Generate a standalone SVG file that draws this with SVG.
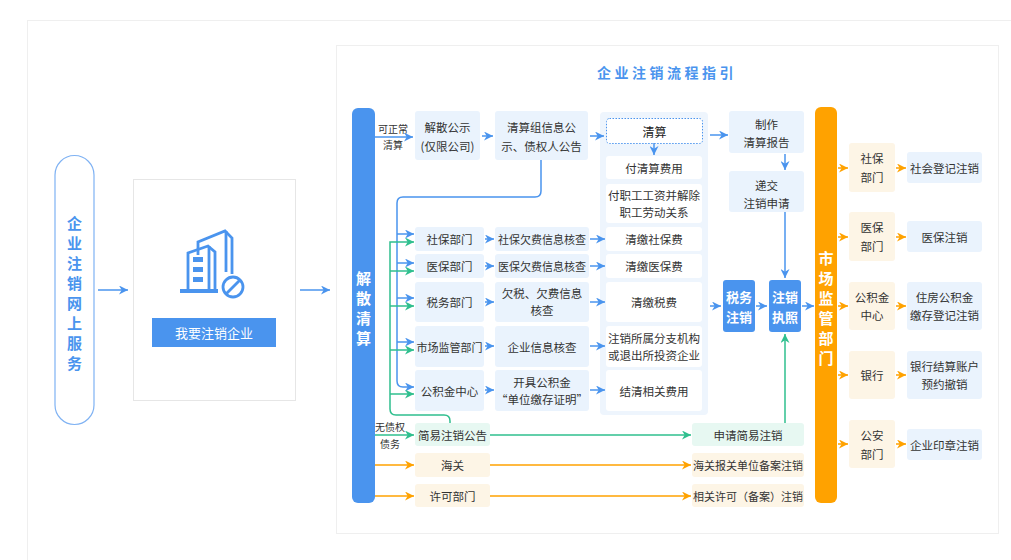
<svg xmlns="http://www.w3.org/2000/svg" width="1011" height="560" viewBox="0 0 1011 560">
<defs>
<style>
.t{font-family:"Noto Sans CJK SC","Noto Sans",sans-serif;font-size:11.5px;fill:#333;text-anchor:middle;dominant-baseline:central}
.s{font-size:10px}
.w{fill:#fff;font-weight:bold;font-size:13px}
.bar{fill:#fff;font-weight:bold;font-size:15px}
.pl{font-size:15px;font-weight:bold;fill:#4a94ee}
.lb{fill:#eaf3fd}
.mn{fill:#e7f8f2}
.cr{fill:#fdf5e6}
.wb{fill:#fff}
.cb{stroke:#4a94ee;stroke-width:1.5;fill:none}
.cg{stroke:#2fbf8e;stroke-width:1.5;fill:none}
.co{stroke:#ffa200;stroke-width:1.5;fill:none}
.ab{marker-end:url(#mb)}
.ag{marker-end:url(#mg)}
.ao{marker-end:url(#mo)}
</style>
<marker id="mb" viewBox="0 0 10 10" refX="10" refY="5" markerWidth="9" markerHeight="9" markerUnits="userSpaceOnUse" orient="auto"><path d="M0,0 L10,5 L0,10 L3,5z" fill="#4a94ee"/></marker>
<marker id="mg" viewBox="0 0 10 10" refX="10" refY="5" markerWidth="9" markerHeight="9" markerUnits="userSpaceOnUse" orient="auto"><path d="M0,0 L10,5 L0,10 L3,5z" fill="#2fbf8e"/></marker>
<marker id="mo" viewBox="0 0 10 10" refX="10" refY="5" markerWidth="9" markerHeight="9" markerUnits="userSpaceOnUse" orient="auto"><path d="M0,0 L10,5 L0,10 L3,5z" fill="#ffa200"/></marker>
</defs>
<rect x="0" y="0" width="1011" height="560" fill="#fff"/>
<rect x="27.5" y="20.5" width="995" height="550" fill="#fff" stroke="#efefef"/>
<rect x="336.5" y="45.5" width="662" height="488" fill="#fff" stroke="#efefef"/>
<text x="667" y="72" class="t" style="font-size:14px;font-weight:bold;fill:#4a94ee;letter-spacing:3.5px">企业注销流程指引</text>

<g id="online-service">
<rect x="55" y="155.5" width="39" height="269" rx="19.5" fill="#fff" stroke="#7fb2f3" stroke-width="1.2"/>
<text x="74.5" y="222" class="t pl">企</text>
<text x="74.5" y="242" class="t pl">业</text>
<text x="74.5" y="262" class="t pl">注</text>
<text x="74.5" y="282" class="t pl">销</text>
<text x="74.5" y="302" class="t pl">网</text>
<text x="74.5" y="322" class="t pl">上</text>
<text x="74.5" y="342" class="t pl">服</text>
<text x="74.5" y="362" class="t pl">务</text>
</g>

<g id="apply-card">
<rect x="133.5" y="179.5" width="162" height="221" fill="#fff" stroke="#e6e6e6"/>
<g fill="none" stroke="#4a94ee" stroke-width="2.8" stroke-linejoin="miter">
<path d="M198,255 V242 L225,231 L232,238 V274"/>
<path d="M226,231 V272"/>
<path d="M188,290 V253 L208,246 L215,252 V290"/>
<path d="M209,246 V290"/>
<circle cx="233" cy="287" r="10"/>
<path d="M226,294 L240,280"/>
</g>
<rect x="180" y="289" width="38" height="4" fill="#4a94ee"/>
<rect x="193" y="257" width="10" height="5" fill="#4a94ee"/>
<rect x="193" y="267" width="10" height="5" fill="#4a94ee"/>
<rect x="193" y="277" width="10" height="5" fill="#4a94ee"/>
<rect x="152" y="318" width="124" height="29" fill="#4a94ee"/>
<text x="214" y="332.5" class="t" style="font-size:13px;fill:#fff">我要注销企业</text>
</g>

<g id="bar-dissolve">
<rect x="352" y="108" width="23" height="395" rx="6" fill="#4a94ee"/>
<text x="363.5" y="277" class="t bar">解</text>
<text x="363.5" y="297" class="t bar">散</text>
<text x="363.5" y="317" class="t bar">清</text>
<text x="363.5" y="337" class="t bar">算</text>
</g>
<g id="bar-market">
<rect x="815" y="107" width="22" height="396" rx="6" fill="#ffa200"/>
<text x="826" y="257" class="t bar">市</text>
<text x="826" y="277" class="t bar">场</text>
<text x="826" y="297" class="t bar">监</text>
<text x="826" y="317" class="t bar">管</text>
<text x="826" y="337" class="t bar">部</text>
<text x="826" y="357" class="t bar">门</text>
</g>

<g id="labels">
<text x="393" y="128" class="t s">可正常</text>
<text x="393" y="144" class="t s">清算</text>
<text x="390" y="426" class="t s">无债权</text>
<text x="390" y="443" class="t s">债务</text>
</g>

<g id="n-announce"><rect x="415" y="111" width="65" height="49" rx="3" class="lb"/><text x="447.5" y="127" class="t">解散公示</text><text x="447.5" y="146" class="t">(仅限公司)</text></g>
<g id="n-group-notice"><rect x="495" y="111" width="93" height="49" rx="3" class="lb"/><text x="541.5" y="127" class="t">清算组信息公</text><text x="541.5" y="146" class="t">示、债权人公告</text></g>

<g id="n-liquidation">
<rect x="600" y="112" width="108" height="303" rx="4" fill="#eef5fd"/>
<rect x="606.5" y="118.5" width="96" height="25" rx="3" fill="#fff" stroke="#4a94ee" stroke-width="1" stroke-dasharray="1.5 1.5"/>
<text x="654.5" y="131" class="t" style="font-size:12px;fill:#222">清算</text>
<rect x="606" y="156" width="96" height="23" rx="3" class="wb"/><text x="654" y="167.5" class="t">付清算费用</text>
<rect x="606" y="184" width="96" height="39" rx="3" class="wb"/><text x="654" y="195" class="t">付职工工资并解除</text><text x="654" y="212" class="t">职工劳动关系</text>
<rect x="606" y="227" width="96" height="24" rx="3" class="wb"/><text x="654" y="239" class="t">清缴社保费</text>
<rect x="606" y="254" width="96" height="24" rx="3" class="wb"/><text x="654" y="266" class="t">清缴医保费</text>
<rect x="606" y="282" width="96" height="40" rx="3" class="wb"/><text x="654" y="302" class="t">清缴税费</text>
<rect x="606" y="326" width="96" height="41" rx="3" class="wb"/><text x="654" y="337.5" class="t">注销所属分支机构</text><text x="654" y="354.5" class="t">或退出所投资企业</text>
<rect x="606" y="370" width="96" height="41" rx="3" class="wb"/><text x="654" y="390.5" class="t">结清相关费用</text>
</g>

<g id="n-depts">
<rect x="415" y="227" width="69" height="24" rx="3" class="lb"/><text x="449.5" y="239" class="t">社保部门</text>
<rect x="415" y="254" width="69" height="24" rx="3" class="lb"/><text x="449.5" y="266" class="t">医保部门</text>
<rect x="415" y="282" width="69" height="40" rx="3" class="lb"/><text x="449.5" y="302" class="t">税务部门</text>
<rect x="415" y="326" width="69" height="41" rx="3" class="lb"/><text x="449.5" y="346.5" class="t" style="font-size:11px">市场监管部门</text>
<rect x="415" y="370" width="69" height="41" rx="3" class="lb"/><text x="449.5" y="390.5" class="t">公积金中心</text>
</g>
<g id="n-checks">
<rect x="495" y="227" width="94" height="24" rx="3" class="lb"/><text x="542" y="239" class="t" style="font-size:11px">社保欠费信息核查</text>
<rect x="495" y="254" width="94" height="24" rx="3" class="lb"/><text x="542" y="266" class="t" style="font-size:11px">医保欠费信息核查</text>
<rect x="495" y="282" width="94" height="40" rx="3" class="lb"/><text x="542" y="293" class="t">欠税、欠费信息</text><text x="542" y="310" class="t">核查</text>
<rect x="495" y="326" width="94" height="41" rx="3" class="lb"/><text x="542" y="346.5" class="t">企业信息核查</text>
<rect x="495" y="370" width="94" height="41" rx="3" class="lb"/><text x="542" y="382" class="t">开具公积金</text><text x="542" y="399" class="t">“单位缴存证明”</text>
</g>

<g id="n-report"><rect x="729" y="111" width="75" height="42" rx="3" class="lb"/><text x="766.5" y="124" class="t">制作</text><text x="766.5" y="142" class="t">清算报告</text></g>
<g id="n-submit"><rect x="729" y="171" width="75" height="41" rx="3" class="lb"/><text x="766.5" y="185" class="t">递交</text><text x="766.5" y="203" class="t">注销申请</text></g>
<g id="n-tax"><rect x="723" y="280" width="32" height="52" rx="3" fill="#4a94ee"/><text x="739" y="296.5" class="t w">税务</text><text x="739" y="316" class="t w">注销</text></g>
<g id="n-license"><rect x="769" y="280" width="32" height="52" rx="3" fill="#4a94ee"/><text x="785" y="296.5" class="t w">注销</text><text x="785" y="316" class="t w">执照</text></g>

<g id="n-simple"><rect x="415" y="423" width="75" height="23" rx="3" class="mn"/><text x="452.5" y="434.5" class="t">简易注销公告</text></g>
<g id="n-simple-apply"><rect x="692" y="423" width="112" height="23" rx="3" class="mn"/><text x="748" y="434.5" class="t">申请简易注销</text></g>
<g id="n-customs"><rect x="415" y="453" width="75" height="24" rx="3" class="cr"/><text x="452.5" y="465" class="t">海关</text></g>
<g id="n-customs-cancel"><rect x="692" y="453" width="112" height="24" rx="3" class="cr"/><text x="748" y="465" class="t" style="font-size:11px">海关报关单位备案注销</text></g>
<g id="n-permit"><rect x="415" y="484" width="75" height="23" rx="3" class="cr"/><text x="452.5" y="495.5" class="t">许可部门</text></g>
<g id="n-permit-cancel"><rect x="692" y="484" width="112" height="23" rx="3" class="cr"/><text x="748" y="495.5" class="t" style="font-size:11px">相关许可（备案）注销</text></g>

<g id="n-r-social"><rect x="849" y="143" width="46" height="49" rx="3" class="cr"/><text x="872" y="158" class="t">社保</text><text x="872" y="177" class="t">部门</text></g>
<g id="n-r-medical"><rect x="849" y="212" width="46" height="49" rx="3" class="cr"/><text x="872" y="227" class="t">医保</text><text x="872" y="246" class="t">部门</text></g>
<g id="n-r-fund"><rect x="849" y="282" width="46" height="48" rx="3" class="cr"/><text x="872" y="297" class="t">公积金</text><text x="872" y="315" class="t">中心</text></g>
<g id="n-r-bank"><rect x="849" y="351" width="46" height="48" rx="3" class="cr"/><text x="872" y="375" class="t">银行</text></g>
<g id="n-r-police"><rect x="849" y="420" width="46" height="48" rx="3" class="cr"/><text x="872" y="435" class="t">公安</text><text x="872" y="454" class="t">部门</text></g>
<g id="n-o-social"><rect x="907" y="152" width="75" height="31" rx="3" class="lb"/><text x="944.5" y="167.5" class="t">社会登记注销</text></g>
<g id="n-o-medical"><rect x="907" y="221" width="75" height="31" rx="3" class="lb"/><text x="944.5" y="236.5" class="t">医保注销</text></g>
<g id="n-o-fund"><rect x="907" y="282" width="75" height="48" rx="3" class="lb"/><text x="944.5" y="297" class="t">住房公积金</text><text x="944.5" y="315" class="t">缴存登记注销</text></g>
<g id="n-o-bank"><rect x="907" y="351" width="75" height="48" rx="3" class="lb"/><text x="944.5" y="366" class="t">银行结算账户</text><text x="944.5" y="384" class="t">预约撤销</text></g>
<g id="n-o-police"><rect x="907" y="429" width="75" height="31" rx="3" class="lb"/><text x="944.5" y="444.5" class="t">企业印章注销</text></g>

<g id="connectors">
<path class="cb ab" d="M98,290 H128"/>
<path class="cb ab" d="M300,290 H330"/>
<path class="cb ab" d="M375,137 H413"/>
<path class="cb ab" d="M482,136 H493"/>
<path class="cb ab" d="M590,136 H604"/>
<path class="cb ab" d="M654,143 V155"/>
<path class="cb ab" d="M710,135 H728"/>
<path class="cb ab" d="M785,154 V170"/>
<path class="cb ab" d="M785,212 V278"/>
<path class="cb ab" d="M710,306 H721"/>
<path class="cb ab" d="M756,306 H767"/>
<path class="cb ab" d="M802,306 H814"/>
<path class="cb ab" d="M541,160 V191 Q541,197 535,197 H403 Q397,197 397,203 V381 Q397,387 403,387 H414"/>
<path class="cb ab" d="M397,234 H414"/>
<path class="cb ab" d="M397,263 H414"/>
<path class="cb ab" d="M397,298 H414"/>
<path class="cb ab" d="M397,342 H414"/>
<path class="cb ab" d="M485,239 H494"/>
<path class="cb ab" d="M485,266 H494"/>
<path class="cb ab" d="M485,302 H494"/>
<path class="cb ab" d="M485,346 H494"/>
<path class="cb ab" d="M485,390 H494"/>
<path class="cb ab" d="M590,239 H605"/>
<path class="cb ab" d="M590,266 H605"/>
<path class="cb ab" d="M590,302 H605"/>
<path class="cb ab" d="M590,346 H605"/>
<path class="cb ab" d="M590,390 H605"/>
<path class="cg ag" d="M450,423 V421 Q450,415 444,415 H396 Q390,415 390,409 V242 H414"/>
<path class="cg ag" d="M390,271 H414"/>
<path class="cg ag" d="M390,306 H414"/>
<path class="cg ag" d="M390,350 H414"/>
<path class="cg ag" d="M390,394 H414"/>
<path class="cg ag" d="M375,435 H414"/>
<path class="cg ag" d="M490,435 H691"/>
<path class="cg ag" d="M785,423 V334"/>
<path class="co ao" d="M375,465 H414"/>
<path class="co ao" d="M490,465 H691"/>
<path class="co ao" d="M375,496 H414"/>
<path class="co ao" d="M490,496 H691"/>
<path class="co ao" d="M838,168 H848"/>
<path class="co ao" d="M838,237 H848"/>
<path class="co ao" d="M838,306 H848"/>
<path class="co ao" d="M838,375 H848"/>
<path class="co ao" d="M838,444 H848"/>
<path class="co ao" d="M896,168 H906"/>
<path class="co ao" d="M896,237 H906"/>
<path class="co ao" d="M896,306 H906"/>
<path class="co ao" d="M896,375 H906"/>
<path class="co ao" d="M896,444 H906"/>
</g>
</svg>
